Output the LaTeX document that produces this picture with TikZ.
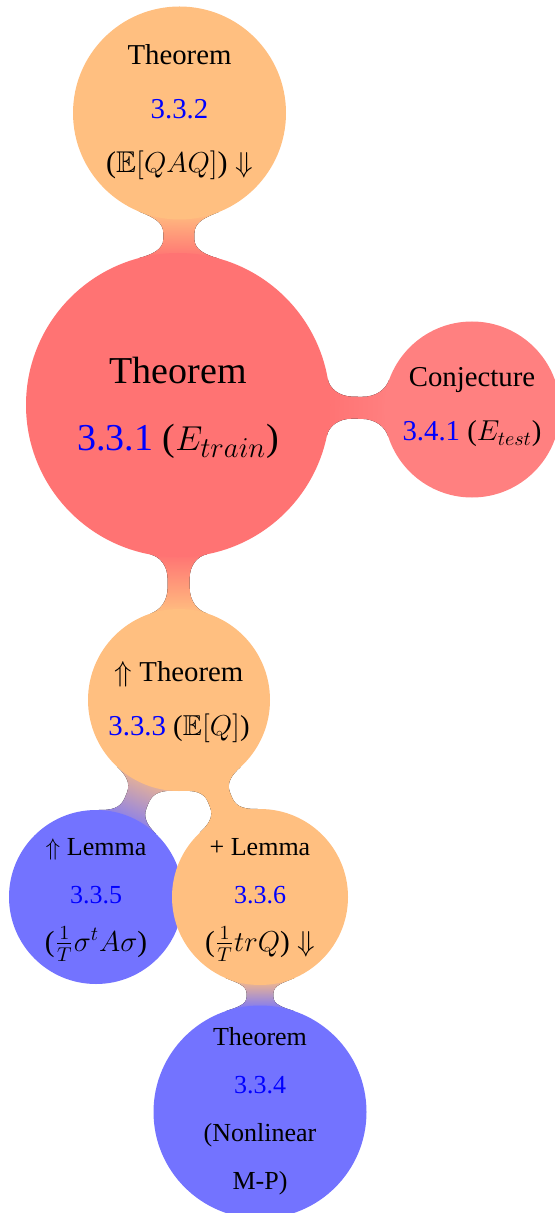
\documentclass[tikz,border=0pt]{standalone}
\usepackage{amssymb}
\usepackage{fontspec}
\setmainfont{Liberation Serif}
\usetikzlibrary{calc,backgrounds}
\definecolor{mainred}{RGB}{255,115,115}
\definecolor{conjred}{RGB}{255,128,128}
\definecolor{orng}{RGB}{255,191,128}
\definecolor{blu}{RGB}{115,115,255}
\tikzset{bubble/.style={circle, inner sep=0pt, outer sep=0pt, minimum size=#1}}
\newcommand\btext[4]{\smash{\makebox[0pt]{\raisebox{#3}{\fontsize{#1}{#2}\selectfont\begin{tabular}[c]{@{}c@{}}#4\end{tabular}}}}}
\newcommand\bigmath[1]{{\fontsize{14.6}{24}\selectfont #1}}
\makeatletter
\newcommand\linkbar[5]{%
  \pgfpointanchor{#1}{center}\edef\lbxa{\the\pgf@x}\edef\lbya{\the\pgf@y}%
  \pgfpointanchor{#2}{center}\edef\lbxb{\the\pgf@x}\edef\lbyb{\the\pgf@y}%
  \pgfpointanchor{#1}{east}\edef\lbxc{\the\pgf@x}\edef\lbyc{\the\pgf@y}%
  \pgfpointanchor{#2}{east}\edef\lbxd{\the\pgf@x}\edef\lbyd{\the\pgf@y}%
  \pgfmathsetmacro\lbang{atan2(\lbyb-\lbya,\lbxb-\lbxa)}%
  \pgfmathsetmacro\lbangp{\lbang+90}%
  \pgfmathsetmacro\lbd{veclen(\lbxb-\lbxa,\lbyb-\lbya)}%
  \pgfmathsetmacro\lbra{veclen(\lbxc-\lbxa,\lbyc-\lbya)}%
  \pgfmathsetmacro\lbrb{veclen(\lbxd-\lbxb,\lbyd-\lbyb)}%
  \pgfmathsetmacro\lbw{#3}%
  \pgfmathsetmacro\lbh{min(2.6*\lbw,0.8*min(\lbra,\lbrb))}%
  \pgfmathsetmacro\lbg{\lbd-\lbra-\lbrb}%
  \pgfmathsetmacro\lbta{asin(\lbh/\lbra)}%
  \pgfmathsetmacro\lbtb{asin(\lbh/\lbrb)}%
  \pgfmathsetmacro\lbpa{\lbra*cos(\lbta)}%
  \pgfmathsetmacro\lbpb{\lbd-\lbrb*cos(\lbtb)}%
  \pgfmathsetmacro\lbma{\lbra+0.42*\lbg}%
  \pgfmathsetmacro\lbmb{\lbd-\lbrb-0.42*\lbg}%
  \pgfmathsetmacro\lbdrop{0.55*(\lbh-\lbw)}%
  \pgfmathsetmacro\lbcy{\lbh-\lbdrop}%
  \pgfmathsetmacro\lbcax{\lbpa+\lbdrop*tan(\lbta)}%
  \pgfmathsetmacro\lbcbx{\lbpb-\lbdrop*tan(\lbtb)}%
  \pgfmathsetmacro\lbka{0.45*\lbma+0.55*\lbpa}%
  \pgfmathsetmacro\lbkb{0.45*\lbmb+0.55*\lbpb}%
  \pgfmathsetmacro\lbsa{\lbang-90}%
  \begin{scope}[on background layer]
  \fill[shading=axis, bottom color=#4, top color=#5, shading angle=\lbsa]
    ($(#1.center)+(\lbang:\lbpa pt)+(\lbangp:\lbh pt)$)
    .. controls ($(#1.center)+(\lbang:\lbcax pt)+(\lbangp:\lbcy pt)$)
    and ($(#1.center)+(\lbang:\lbka pt)+(\lbangp:\lbw pt)$)
    .. ($(#1.center)+(\lbang:\lbma pt)+(\lbangp:\lbw pt)$)
    -- ($(#1.center)+(\lbang:\lbmb pt)+(\lbangp:\lbw pt)$)
    .. controls ($(#1.center)+(\lbang:\lbkb pt)+(\lbangp:\lbw pt)$)
    and ($(#1.center)+(\lbang:\lbcbx pt)+(\lbangp:\lbcy pt)$)
    .. ($(#1.center)+(\lbang:\lbpb pt)+(\lbangp:\lbh pt)$)
    -- ($(#1.center)+(\lbang:\lbpb pt)+(\lbangp:-\lbh pt)$)
    .. controls ($(#1.center)+(\lbang:\lbcbx pt)+(\lbangp:-\lbcy pt)$)
    and ($(#1.center)+(\lbang:\lbkb pt)+(\lbangp:-\lbw pt)$)
    .. ($(#1.center)+(\lbang:\lbmb pt)+(\lbangp:-\lbw pt)$)
    -- ($(#1.center)+(\lbang:\lbma pt)+(\lbangp:-\lbw pt)$)
    .. controls ($(#1.center)+(\lbang:\lbka pt)+(\lbangp:-\lbw pt)$)
    and ($(#1.center)+(\lbang:\lbcax pt)+(\lbangp:-\lbcy pt)$)
    .. ($(#1.center)+(\lbang:\lbpa pt)+(\lbangp:-\lbh pt)$)
    -- cycle;
  \end{scope}%
}
\makeatother
\begin{document}
\begin{tikzpicture}[x=0.5pt,y=-0.5pt]
\useasboundingbox (0,0) rectangle (554,1213);
\node[bubble=106.5pt, fill=orng] (thm332) at (179.5,113)
  {\btext{14.4}{27}{-1.2pt}{Theorem\\ \textcolor{blue}{3.3.2}\\ {\fontsize{15}{27}\selectfont(\(\mathbb{E}[QAQ]\)) \(\Downarrow\)}}};
\node[bubble=152pt, fill=mainred] (thm331) at (178,405)
  {\btext{19}{33.5}{-3.75pt}{Theorem\\ \textcolor{blue}{3.3.1} (\(E_{train}\))}};
\node[bubble=88pt, fill=conjred] (conj341) at (472,409.5)
  {\btext{14.4}{27}{-0.3pt}{Conjecture\\ \textcolor{blue}{3.4.1} (\(E_{test}\))}};
\node[bubble=91pt, fill=orng] (thm333) at (179,700)
  {\btext{14.4}{27}{-2.5pt}{\(\Uparrow\) Theorem\\ \textcolor{blue}{3.3.3} (\(\mathbb{E}[Q]\))}};
\node[bubble=87pt, fill=blu] (lem335) at (96,897)
  {\btext{13}{24}{-1.25pt}{\(\Uparrow\) Lemma\\ \textcolor{blue}{3.3.5}\\ \bigmath{(\(\frac{1}{T}\sigma^tA\sigma\))}}};
\node[bubble=88pt, fill=orng] (lem336) at (260,897)
  {\btext{13}{24}{-1.25pt}{+ Lemma\\ \textcolor{blue}{3.3.6}\\ \bigmath{(\(\frac{1}{T}trQ\)) \(\Downarrow\)}}};
\node[bubble=106.5pt, fill=blu] (thm334) at (260,1112)
  {\btext{13}{24}{-0.95pt}{Theorem\\ \textcolor{blue}{3.3.4}\\ (Nonlinear\\ M-P)}};
\linkbar{thm332}{thm331}{7.75}{orng}{mainred}
\linkbar{thm331}{conj341}{5.5}{mainred}{conjred}
\linkbar{thm331}{thm333}{5.5}{mainred}{orng}
\linkbar{thm333}{lem335}{6}{orng}{blu}
\linkbar{thm333}{lem336}{6}{orng}{orng}
\linkbar{lem336}{thm334}{6.7}{orng}{blu}
\end{tikzpicture}
\end{document}
